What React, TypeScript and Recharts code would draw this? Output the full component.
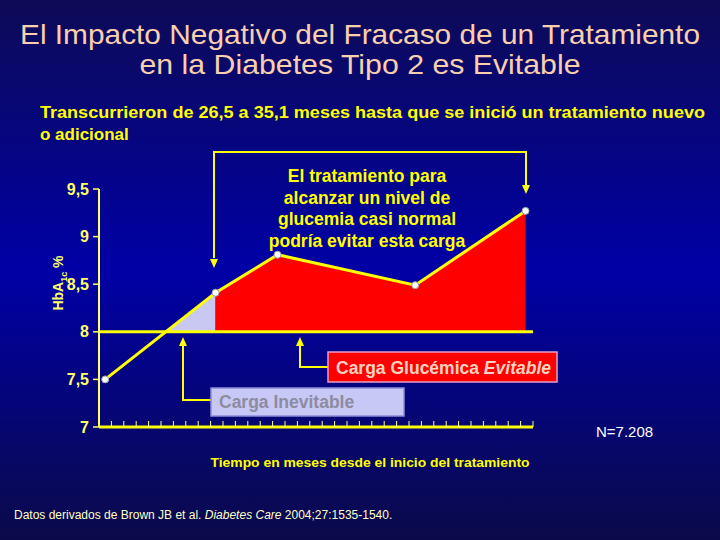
import { ComposedChart, Line, Area, XAxis, YAxis, ReferenceLine } from 'recharts';

// months since treatment start and HbA1c (%)
const months = [0.5, 9.4, 14.4, 25.5, 34.4];
const hba1c = [7.5, 8.41, 8.81, 8.49, 9.27];
const target = 8;
const yTicks = [7, 7.5, 8, 8.5, 9, 9.5];
const xTicks = Array.from({ length: 36 }, (_, i) => i);

const FONT = 'Arial, "Liberation Sans", sans-serif';
const YELLOW = '#FFFF00';

// point where the curve crosses the 8 % line (between the 1st and 2nd reading)
const crossT = months[0] + ((target - hba1c[0]) / (hba1c[1] - hba1c[0])) * (months[1] - months[0]);

const data = [
    { t: months[0], v: hba1c[0] },
    { t: crossT, inev: target },
    ...months.slice(1).map((t, i) => ({
        t,
        v: hba1c[i + 1],
        inev: i === 0 ? hba1c[i + 1] : undefined,
        evit: hba1c[i + 1],
    })),
];

function Arrow({ points, tip, dir }: { points: string; tip: [number, number]; dir: 'up' | 'down' }) {
    const [x, y] = tip;
    const s = dir === 'down' ? -1 : 1;
    return (
        <g>
            <polyline points={points} fill="none" stroke={YELLOW} strokeWidth={2} />
            <polygon points={`${x},${y} ${x - 4},${y + s * 9} ${x + 4},${y + s * 9}`} fill={YELLOW} />
        </g>
    );
}

export default function App() {
    return (
        <div
            style={{
                position: 'absolute',
                left: 0,
                top: 0,
                width: 720,
                height: 540,
                background: 'linear-gradient(to bottom, #0d0b56 0%, #0000a6 50%, #0a0a4a 100%)',
                fontFamily: FONT,
            }}
        >
            <ComposedChart
                width={720}
                height={540}
                data={data}
                margin={{ top: 189, right: 187, bottom: 113, left: 0 }}
            >
                <XAxis
                    type="number"
                    dataKey="t"
                    domain={[0, 35]}
                    ticks={xTicks}
                    interval={0}
                    height={20}
                    mirror
                    tickSize={6}
                    tickFormatter={() => ''}
                    axisLine={{ stroke: YELLOW, strokeWidth: 3 }}
                    tickLine={{ stroke: '#FFFF99', strokeWidth: 1 }}
                />
                <YAxis
                    type="number"
                    domain={[7, 9.5]}
                    ticks={yTicks}
                    width={99}
                    tickSize={6}
                    tickMargin={4}
                    tickFormatter={(v: number) => String(v).replace('.', ',')}
                    tick={{ fill: '#FFFF66', fontSize: 16, fontWeight: 'bold', fontFamily: FONT }}
                    axisLine={{ stroke: '#FFFF66', strokeWidth: 2 }}
                    tickLine={{ stroke: '#FFFF66', strokeWidth: 1.5 }}
                />
                <Area
                    type="linear"
                    dataKey="inev"
                    baseValue={target}
                    fill="#C8C8F2"
                    fillOpacity={1}
                    stroke="none"
                    activeDot={false}
                    isAnimationActive={false}
                />
                <Area
                    type="linear"
                    dataKey="evit"
                    baseValue={target}
                    fill="#FF0000"
                    fillOpacity={1}
                    stroke="none"
                    activeDot={false}
                    isAnimationActive={false}
                />
                <ReferenceLine y={target} stroke={YELLOW} strokeWidth={3} />
                <Line
                    type="linear"
                    dataKey="v"
                    connectNulls
                    stroke={YELLOW}
                    strokeWidth={3}
                    dot={{ r: 3.5, fill: '#FFFFFF', stroke: '#9a9aa8', strokeWidth: 1 }}
                    activeDot={false}
                    isAnimationActive={false}
                />
            </ComposedChart>

            <svg
                width={720}
                height={540}
                style={{ position: 'absolute', left: 0, top: 0, pointerEvents: 'none' }}
                fontFamily={FONT}
            >
                {/* title */}
                <text x={360} y={44} textAnchor="middle" fill="#F9CFAE" fontSize={28} textLength={680} lengthAdjust="spacingAndGlyphs">
                    El Impacto Negativo del Fracaso de un Tratamiento
                </text>
                <text x={360} y={74} textAnchor="middle" fill="#F9CFAE" fontSize={28} textLength={441} lengthAdjust="spacingAndGlyphs">
                    en la Diabetes Tipo 2 es Evitable
                </text>

                {/* subtitle */}
                <text x={40} y={118} fill={YELLOW} fontSize={17} fontWeight="bold" textLength={665} lengthAdjust="spacingAndGlyphs">
                    Transcurrieron de 26,5 a 35,1 meses hasta que se inició un tratamiento nuevo
                </text>
                <text x={40} y={140} fill={YELLOW} fontSize={17} fontWeight="bold">
                    o adicional
                </text>

                {/* y label */}
                <text
                    transform="translate(63, 283) rotate(-90)"
                    textAnchor="middle"
                    fill="#FFFF66"
                    fontSize={14}
                    fontWeight="bold"
                >
                    HbA
                    <tspan fontSize={9} dy={4}>1c</tspan>
                    <tspan dy={-4}> %</tspan>
                </text>

                {/* bracket arrows */}
                <Arrow points="214,258 214,152 526,152 526,185" tip={[214, 268]} dir="down" />
                <Arrow points="526,152 526,185" tip={[526, 194]} dir="down" />
                {['El tratamiento para', 'alcanzar un nivel de', 'glucemia casi normal', 'podría evitar esta carga'].map(
                    (s, i) => (
                        <text
                            key={s}
                            x={367}
                            y={182 + i * 21.7}
                            textAnchor="middle"
                            fill={YELLOW}
                            fontSize={17.5}
                            fontWeight="bold"
                        >
                            {s}
                        </text>
                    )
                )}

                {/* avoidable burden */}
                <Arrow points="328,367 300,367 300,346" tip={[300, 337]} dir="up" />
                <rect x={328} y={352} width={229} height={30} fill="#FF0000" stroke="#E6A0C8" strokeWidth={1.5} />
                <text x={336} y={374} fill="#FFD3C0" fontSize={17.5} fontWeight="bold">
                    Carga Glucémica <tspan fontStyle="italic">Evitable</tspan>
                </text>

                {/* unavoidable burden */}
                <Arrow points="211,400 183,400 183,346" tip={[183, 337]} dir="up" />
                <rect x={211} y={388} width={193} height={28} fill="#C8C8F6" stroke="#8C8CD8" strokeWidth={1.5} />
                <text x={219} y={408} fill="#8C8CA0" fontSize={17.5} fontWeight="bold">
                    Carga Inevitable
                </text>

                <text x={596} y={437} fill="#FFFFFF" fontSize={15}>
                    N=7.208
                </text>
                <text x={370} y={467} textAnchor="middle" fill={YELLOW} fontSize={13} fontWeight="bold" textLength={319} lengthAdjust="spacingAndGlyphs">
                    Tiempo en meses desde el inicio del tratamiento
                </text>
                <text x={14} y={519} fill="#FFFFC8" fontSize={12}>
                    Datos derivados de Brown JB et al. <tspan fontStyle="italic">Diabetes Care</tspan> 2004;27:1535-1540.
                </text>
            </svg>
        </div>
    );
}
